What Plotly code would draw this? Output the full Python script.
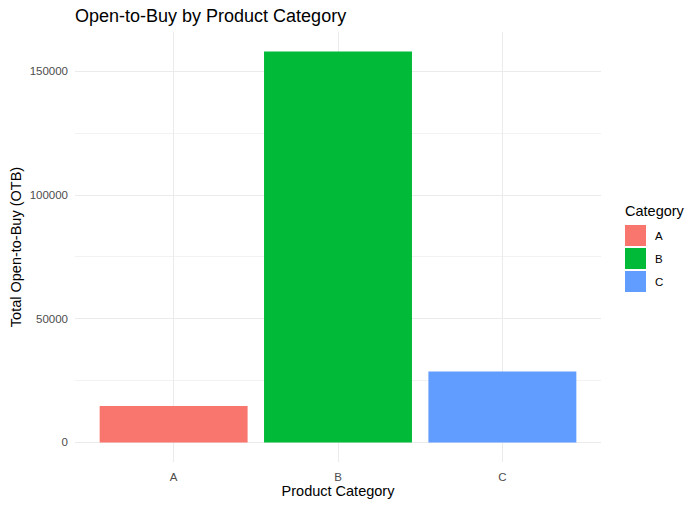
import plotly.graph_objects as go

categories = ["A", "B", "C"]
otb_values = [14700, 158000, 28700]
colors = ["#F8766D", "#00BA38", "#619CFF"]
y_ticks = [0, 50000, 100000, 150000]

fig = go.Figure()
for cat, val, col in zip(categories, otb_values, colors):
    fig.add_trace(go.Bar(x=[cat], y=[val], name=cat, marker=dict(color=col, line=dict(width=0)),
                         width=0.9, showlegend=False))

# custom ggplot-like legend
L, R, T, B = 75, 97, 32, 46
pw = 698 - L - R
ph = 508 - T - B
def px(x):
    return (x - L) / pw
def py(y):
    return (508 - B - y) / ph

shapes = []
annotations = [dict(text="Category", x=px(623), y=py(211), xref="paper", yref="paper",
                    xanchor="left", yanchor="middle", showarrow=False,
                    font=dict(size=14.5, color="black"))]
key_tops = [225, 248, 271]
for cat, col, top in zip(categories, colors, key_tops):
    shapes.append(dict(type="rect", xref="paper", yref="paper", x0=px(625), x1=px(646),
                       y0=py(top + 21), y1=py(top), fillcolor=col, line=dict(width=0)))
    annotations.append(dict(text=cat, x=px(653), y=py(top + 11), xref="paper", yref="paper",
                            xanchor="left", yanchor="middle", showarrow=False,
                            font=dict(size=11.5, color="black")))

fig.update_layout(
    width=698, height=508,
    margin=dict(l=L, r=R, t=T, b=B, autoexpand=False),
    paper_bgcolor="white", plot_bgcolor="white",
    font=dict(family="Liberation Sans, Arial, sans-serif"),
    title=dict(text="Open-to-Buy by Product Category", x=75/698, xanchor="left",
               y=1 - 16/508, yanchor="middle", font=dict(size=18, color="black")),
    bargap=0.1,
    shapes=shapes,
    annotations=annotations,
    xaxis=dict(title=dict(text="Product Category", font=dict(size=14.5, color="black"), standoff=4),
               range=[-0.6, 2.6], showgrid=True, gridcolor="#EBEBEB", gridwidth=1,
               tickfont=dict(size=11.5, color="#4D4D4D"), ticks="", zeroline=False,
               showline=False, ticklabelstandoff=6, automargin=False),
    yaxis=dict(title=dict(text="Total Open-to-Buy (OTB)", font=dict(size=14.5, color="black"), standoff=4),
               range=[-7900, 165900], tickvals=y_ticks, ticktext=[str(v) for v in y_ticks],
               showgrid=True, gridcolor="#EBEBEB", gridwidth=1.1,
               minor=dict(tickvals=[25000, 75000, 125000], showgrid=True, gridcolor="#F2F2F2", gridwidth=0.6),
               tickfont=dict(size=11.5, color="#4D4D4D"), ticks="", zeroline=False,
               showline=False, ticklabelstandoff=6, automargin=False),
)

fig.write_html("out.html", config={"displayModeBar": False},
               post_script="document.body.style.margin='0';")
